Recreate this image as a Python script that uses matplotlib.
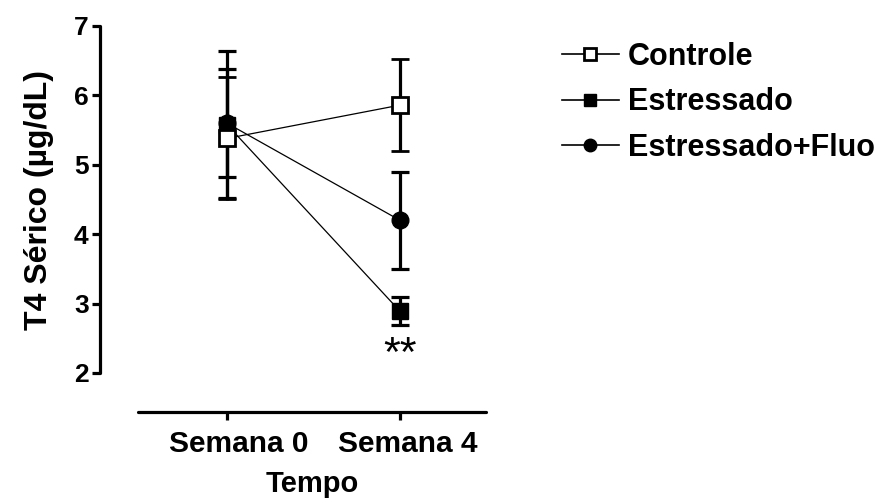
import matplotlib
matplotlib.use('Agg')
import matplotlib.pyplot as plt
from matplotlib.lines import Line2D
from matplotlib.transforms import ScaledTranslation

plt.rcParams['font.family'] = ['Liberation Sans', 'DejaVu Sans']
plt.rcParams['font.weight'] = 'bold'

weeks = ['Semana 0', 'Semana 4']
controle = [5.38, 5.86]
controle_err = [0.88, 0.66]
estressado = [5.58, 2.89]
estressado_err = [1.06, 0.20]
fluo = [5.60, 4.20]
fluo_err = [0.78, 0.70]

fig = plt.figure(figsize=(8.83, 5.0), dpi=100)
ax = fig.add_axes([138 / 883, 127 / 500, 348 / 883, 347 / 500])

xs = [0, 1]
eb = dict(color='black', elinewidth=2.3, capsize=6.5, capthick=2.3, lw=0.9)
ax.errorbar(xs, fluo, yerr=fluo_err, marker='o', ms=12, mfc='black',
            mec='black', **eb)
ax.errorbar(xs, estressado, yerr=estressado_err, marker='s', ms=12, mfc='black',
            mec='black', **eb)
ax.errorbar(xs, controle, yerr=controle_err, marker='s', ms=12, mfc='white',
            mec='black', mew=2, **eb)

ax.text(1, 2.1, '**', ha='center', va='baseline', fontsize=31, fontweight='normal')

ax.set_xlim(-0.514, 1.497)
ax.set_ylim(2, 7)
ax.set_yticks([2, 3, 4, 5, 6, 7])
ax.set_xticks(xs)
ax.set_xticklabels(weeks)

for s in ['top', 'right']:
    ax.spines[s].set_visible(False)
ax.spines['left'].set_position(('outward', 27.5))
ax.spines['bottom'].set_position(('outward', 28))
ax.spines['left'].set_linewidth(2.3)
ax.spines['bottom'].set_linewidth(2.3)
ax.spines['left'].set_capstyle('round')
ax.spines['bottom'].set_capstyle('round')
ax.tick_params(axis='both', width=2.3, length=6)
ax.tick_params(axis='y', labelsize=19, pad=2)
ax.tick_params(axis='x', labelsize=21.5, pad=7)

# labels sit a little right of their ticks in the original
for lbl, dx in zip(ax.get_xticklabels(), [12, 8]):
    lbl.set_transform(lbl.get_transform() + ScaledTranslation(dx / 100, 0, fig.dpi_scale_trans))

ax.set_ylabel('T4 Sérico (µg/dL)', fontsize=23, fontweight='bold', labelpad=14)
ax.set_xlabel('Tempo', fontsize=21, fontweight='bold', labelpad=9)

handles = [
    Line2D([], [], color='black', lw=1.2, marker='s', ms=8.5, mfc='white', mec='black', mew=2),
    Line2D([], [], color='black', lw=1.2, marker='s', ms=8.5, mfc='black', mec='black'),
    Line2D([], [], color='black', lw=1.2, marker='o', ms=9, mfc='black', mec='black'),
]
labels = ['Controle', 'Estressado', 'Estressado+Fluo']
fig.legend(handles, labels, loc='upper left', bbox_to_anchor=(562 / 883, 1 - 42 / 500),
           frameon=False, fontsize=22, handlelength=1.85, handletextpad=0.3,
           labelspacing=0.5, borderaxespad=0, borderpad=0)

plt.savefig('out.png', dpi=100)
